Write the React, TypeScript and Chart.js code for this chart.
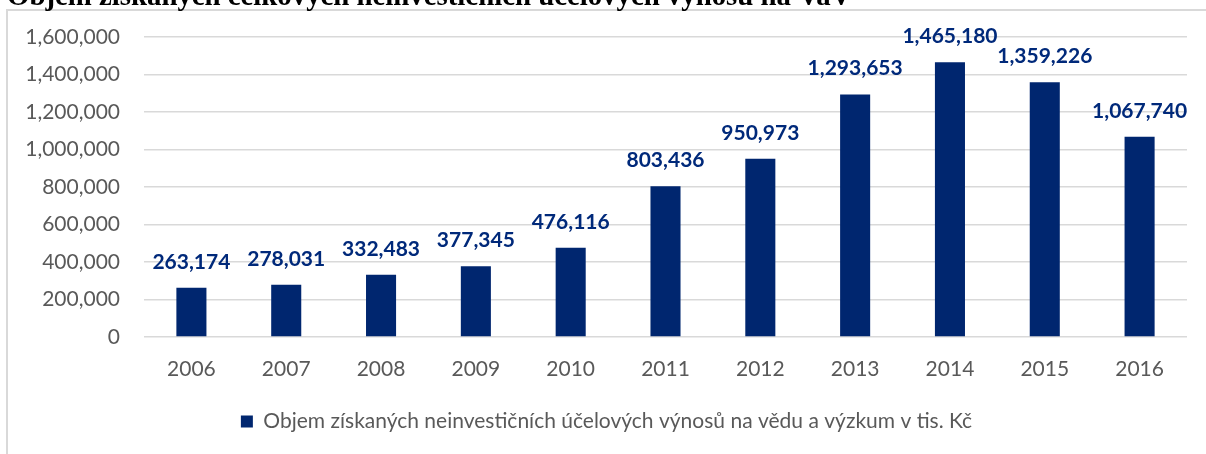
import React, { useEffect, useRef } from "react";
import { Chart, registerables } from "chart.js";

Chart.register(...registerables);

const title = "Objem získaných celkových neinvestičních účelových výnosů na VaV";
const seriesLabel = "Objem získaných neinvestičních účelových výnosů na vědu a výzkum v tis. Kč";
const years = ["2006", "2007", "2008", "2009", "2010", "2011", "2012", "2013", "2014", "2015", "2016"];
const values = [263174, 278031, 332483, 377345, 476116, 803436, 950973, 1293653, 1465180, 1359226, 1067740];
const yMin = 0;
const yMax = 1600000;
const yStep = 200000;

const fmt = (v: number) => v.toLocaleString("en-US");

const framePlugin = {
  id: "frameAndTitle",
  beforeDraw(chart: any) {
    const ctx = chart.ctx;
    ctx.save();
    ctx.fillStyle = "#d9d9d9";
    ctx.fillRect(6, 9, 2, chart.height - 9);
    ctx.fillRect(6, 9, chart.width - 6, 2);
    ctx.fillStyle = "#000000";
    ctx.font = 'bold 28.8px "Liberation Serif"';
    ctx.textAlign = "left";
    ctx.textBaseline = "alphabetic";
    ctx.fillText(title, 7, 5);
    ctx.restore();
  },
};

const legendShiftPlugin = {
  id: "legendShift",
  afterLayout(chart: any) {
    const l = chart.legend;
    if (l) {
      l.left += 13;
      l.right += 13;
    }
  },
};

const labelPlugin = {
  id: "barValueLabels",
  afterDatasetsDraw(chart: any) {
    const ctx = chart.ctx;
    ctx.save();
    ctx.fillStyle = "#00297A";
    ctx.font = 'bold 21px "Lato"';
    ctx.textAlign = "center";
    ctx.textBaseline = "alphabetic";
    chart.data.datasets.forEach((ds: any, di: number) => {
      const meta = chart.getDatasetMeta(di);
      meta.data.forEach((bar: any, i: number) => {
        ctx.fillText(fmt(ds.data[i]), bar.x, bar.y - 19);
      });
    });
    ctx.restore();
  },
};

export default function App() {
  const ref = useRef<HTMLCanvasElement | null>(null);

  useEffect(() => {
    if (!ref.current) return;
    const chart = new Chart(ref.current, {
      type: "bar",
      data: {
        labels: years,
        datasets: [
          {
            label: seriesLabel,
            data: values,
            backgroundColor: "#00266F",
            borderWidth: 0,
            barPercentage: 0.317,
            categoryPercentage: 1,
          },
        ],
      },
      options: {
        animation: false,
        responsive: false,
        maintainAspectRatio: false,
        devicePixelRatio: 1,
        layout: { padding: { top: 37, right: 19, bottom: 12, left: 0 } },
        plugins: {
          tooltip: { enabled: false },
          title: { display: false },
          legend: {
            position: "bottom",
            labels: {
              boxWidth: 12,
              boxHeight: 12,
              padding: 10,
              color: "#595959",
              font: { family: "Lato", size: 21 },
            },
          },
        },
        scales: {
          x: {
            grid: { display: false, drawTicks: false },
            border: { display: false },
            ticks: {
              color: "#595959",
              font: { family: "Lato", size: 21 },
              padding: 20,
              maxRotation: 0,
            },
            afterFit: (s: any) => {
              s.height = 64;
            },
          },
          y: {
            min: yMin,
            max: yMax,
            grid: { color: "#d9d9d9", lineWidth: 1.5, drawTicks: false },
            border: { display: false },
            ticks: {
              stepSize: yStep,
              color: "#595959",
              font: { family: "Lato", size: 21 },
              padding: 24,
              callback: (v: any) => fmt(Number(v)),
            },
            afterFit: (s: any) => {
              s.width = 144;
            },
          },
        },
      },
      plugins: [framePlugin, legendShiftPlugin, labelPlugin],
    });
    return () => chart.destroy();
  }, []);

  return (
    <div style={{ position: "absolute", left: 0, top: 0, width: 1206, height: 454, overflow: "hidden", background: "#ffffff" }}>
      <canvas ref={ref} width={1206} height={454} style={{ display: "block", width: 1206, height: 454 }} />
    </div>
  );
}
